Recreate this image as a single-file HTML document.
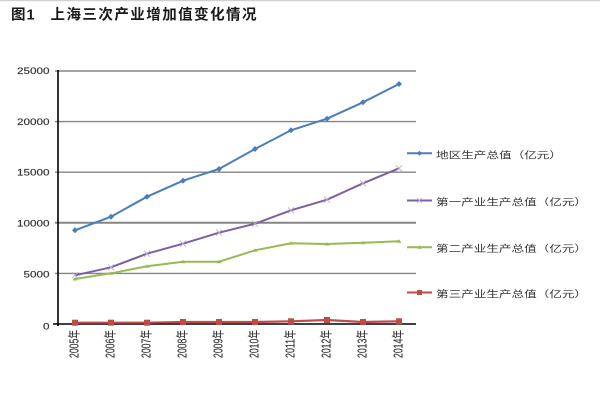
<!DOCTYPE html>
<html><head><meta charset="utf-8"><style>
html,body{margin:0;padding:0;background:#fff;}
svg{display:block;}
text{font-family:"Liberation Sans","Noto Sans CJK SC",sans-serif;}
</style></head><body>
<svg width="600" height="403" viewBox="0 0 600 403" xmlns="http://www.w3.org/2000/svg">
<rect x="0" y="0" width="600" height="403" fill="#fff"/>
<line x1="0" y1="0.5" x2="600" y2="0.5" stroke="#cfd0d4" stroke-width="1.5"/>
<!-- title -->
<g font-size="14.5" fill="#1a1a1a" font-weight="bold">
<text x="11" y="15.5" dominant-baseline="central">图</text>
<text x="26.5" y="15.5" dominant-baseline="central">1</text>
<text x="50.5" y="15.5" dominant-baseline="central" textLength="206" lengthAdjust="spacing">上海三次产业增加值变化情况</text>
</g>
<!-- gridlines -->
<g stroke="#858585" stroke-width="1.4">
<line x1="55" y1="71" x2="416" y2="71"/>
<line x1="55" y1="121.6" x2="416" y2="121.6"/>
<line x1="55" y1="172.2" x2="416" y2="172.2"/>
<line x1="55" y1="222.8" x2="416" y2="222.8" stroke-width="2"/>
<line x1="55" y1="273.4" x2="416" y2="273.4"/>
</g>
<!-- axes -->
<line x1="58" y1="70" x2="58" y2="326" stroke="#000" stroke-width="1.6"/>
<line x1="53" y1="324" x2="416" y2="324" stroke="#000" stroke-width="1.6"/>
<!-- y labels -->
<g font-size="8.8" fill="#333" stroke="#333" stroke-width="0.15">
<text x="17" y="71" dominant-baseline="central" textLength="32.5" lengthAdjust="spacingAndGlyphs">25000</text>
<text x="17" y="121.8" dominant-baseline="central" textLength="32.5" lengthAdjust="spacingAndGlyphs">20000</text>
<text x="17" y="172.5" dominant-baseline="central" textLength="32.5" lengthAdjust="spacingAndGlyphs">15000</text>
<text x="17" y="223.3" dominant-baseline="central" textLength="32.5" lengthAdjust="spacingAndGlyphs">10000</text>
<text x="23.5" y="274.3" dominant-baseline="central" textLength="26" lengthAdjust="spacingAndGlyphs">5000</text>
<text x="43" y="326.5" dominant-baseline="central" textLength="6.5" lengthAdjust="spacingAndGlyphs">0</text>
</g>
<!-- x labels -->
<g font-size="12.5" fill="#333" stroke="#333" stroke-width="0.15">
<text transform="translate(74.5,358) rotate(-90)" dominant-baseline="central" textLength="28" lengthAdjust="spacingAndGlyphs">2005年</text>
<text transform="translate(110.5,358) rotate(-90)" dominant-baseline="central" textLength="28" lengthAdjust="spacingAndGlyphs">2006年</text>
<text transform="translate(146.5,358) rotate(-90)" dominant-baseline="central" textLength="28" lengthAdjust="spacingAndGlyphs">2007年</text>
<text transform="translate(182.5,358) rotate(-90)" dominant-baseline="central" textLength="28" lengthAdjust="spacingAndGlyphs">2008年</text>
<text transform="translate(218.5,358) rotate(-90)" dominant-baseline="central" textLength="28" lengthAdjust="spacingAndGlyphs">2009年</text>
<text transform="translate(254.5,358) rotate(-90)" dominant-baseline="central" textLength="28" lengthAdjust="spacingAndGlyphs">2010年</text>
<text transform="translate(290.5,358) rotate(-90)" dominant-baseline="central" textLength="28" lengthAdjust="spacingAndGlyphs">2011年</text>
<text transform="translate(326.5,358) rotate(-90)" dominant-baseline="central" textLength="28" lengthAdjust="spacingAndGlyphs">2012年</text>
<text transform="translate(362.5,358) rotate(-90)" dominant-baseline="central" textLength="28" lengthAdjust="spacingAndGlyphs">2013年</text>
<text transform="translate(398.5,358) rotate(-90)" dominant-baseline="central" textLength="28" lengthAdjust="spacingAndGlyphs">2014年</text>
</g>
<!-- series: red -->
<polyline fill="none" stroke="#be4b48" stroke-width="2.2" points="75,322.7 111,322.7 147,322.7 183,322 219,322 255,322 291,321.3 327,320 363,322 399,321.3"/>
<g fill="#be4b48">
<rect x="72" y="319.7" width="6" height="6"/><rect x="108" y="319.7" width="6" height="6"/><rect x="144" y="319.7" width="6" height="6"/><rect x="180" y="319" width="6" height="6"/><rect x="216" y="319" width="6" height="6"/><rect x="252" y="319" width="6" height="6"/><rect x="288" y="318.3" width="6" height="6"/><rect x="324" y="317" width="6" height="6"/><rect x="360" y="319" width="6" height="6"/><rect x="396" y="318.3" width="6" height="6"/>
</g>
<!-- green -->
<polyline fill="none" stroke="#98b954" stroke-width="2" points="75,279 111,273.3 147,266.3 183,261.7 219,261.7 255,250.3 291,243.3 327,244 363,242.7 399,241.3"/>
<g fill="#98b954">
<path d="M75,277 l2.5,3.5 h-5z"/><path d="M111,271.3 l2.5,3.5 h-5z"/><path d="M147,264.3 l2.5,3.5 h-5z"/><path d="M183,259.7 l2.5,3.5 h-5z"/><path d="M219,259.7 l2.5,3.5 h-5z"/><path d="M255,248.3 l2.5,3.5 h-5z"/><path d="M291,241.3 l2.5,3.5 h-5z"/><path d="M327,242 l2.5,3.5 h-5z"/><path d="M363,240.7 l2.5,3.5 h-5z"/><path d="M399,239.3 l2.5,3.5 h-5z"/>
</g>
<!-- purple -->
<polyline fill="none" stroke="#7d60a0" stroke-width="2" points="75,275.3 111,267.3 147,253.7 183,243.7 219,232.7 255,223.7 291,210.3 327,199.7 363,183.3 399,168.3"/>
<g stroke="#b8a8d0" stroke-width="0.8">
<path d="M72,272.3 l6,6 M78,272.3 l-6,6"/><path d="M108,264.3 l6,6 M114,264.3 l-6,6"/><path d="M144,250.7 l6,6 M150,250.7 l-6,6"/><path d="M180,240.7 l6,6 M186,240.7 l-6,6"/><path d="M216,229.7 l6,6 M222,229.7 l-6,6"/><path d="M252,220.7 l6,6 M258,220.7 l-6,6"/><path d="M288,207.3 l6,6 M294,207.3 l-6,6"/><path d="M324,196.7 l6,6 M330,196.7 l-6,6"/><path d="M360,180.3 l6,6 M366,180.3 l-6,6"/><path d="M396,165.3 l6,6 M402,165.3 l-6,6"/>
</g>
<!-- blue -->
<polyline fill="none" stroke="#4a7ebb" stroke-width="2" points="75,230.3 111,216.7 147,196.7 183,180.7 219,169 255,149 291,130.3 327,118.7 363,102.3 399,84"/>
<g fill="#4a7ebb">
<path d="M75,227.3 l3,3 l-3,3 l-3,-3z"/><path d="M111,213.7 l3,3 l-3,3 l-3,-3z"/><path d="M147,193.7 l3,3 l-3,3 l-3,-3z"/><path d="M183,177.7 l3,3 l-3,3 l-3,-3z"/><path d="M219,166 l3,3 l-3,3 l-3,-3z"/><path d="M255,146 l3,3 l-3,3 l-3,-3z"/><path d="M291,127.3 l3,3 l-3,3 l-3,-3z"/><path d="M327,115.7 l3,3 l-3,3 l-3,-3z"/><path d="M363,99.3 l3,3 l-3,3 l-3,-3z"/><path d="M399,81 l3,3 l-3,3 l-3,-3z"/>
</g>
<!-- legend -->
<line x1="407" y1="153.3" x2="432" y2="153.3" stroke="#4a7ebb" stroke-width="2"/>
<path d="M419.5,150.8 l2.5,2.5 l-2.5,2.5 l-2.5,-2.5z" fill="#4a7ebb"/>
<line x1="407" y1="200.5" x2="432" y2="200.5" stroke="#7d60a0" stroke-width="2"/>
<path d="M417,198 l5,5 M422,198 l-5,5" stroke="#b8a8d0" stroke-width="0.8"/>
<line x1="407" y1="247.3" x2="432" y2="247.3" stroke="#98b954" stroke-width="2"/>
<path d="M419.5,245.3 l2.5,3.5 h-5z" fill="#98b954"/>
<line x1="407" y1="292.5" x2="432" y2="292.5" stroke="#be4b48" stroke-width="2"/>
<rect x="417" y="290" width="5" height="5" fill="#be4b48"/>
<g font-size="9.4" fill="#333">
<text x="436" y="155" dominant-baseline="central" textLength="126" lengthAdjust="spacingAndGlyphs">地区生产总值（亿元）</text>
<text x="436" y="202" dominant-baseline="central" textLength="151" lengthAdjust="spacingAndGlyphs">第一产业生产总值（亿元）</text>
<text x="436" y="248.5" dominant-baseline="central" textLength="151" lengthAdjust="spacingAndGlyphs">第二产业生产总值（亿元）</text>
<text x="436" y="294" dominant-baseline="central" textLength="151" lengthAdjust="spacingAndGlyphs">第三产业生产总值（亿元）</text>
</g>
</svg>
</body></html>
